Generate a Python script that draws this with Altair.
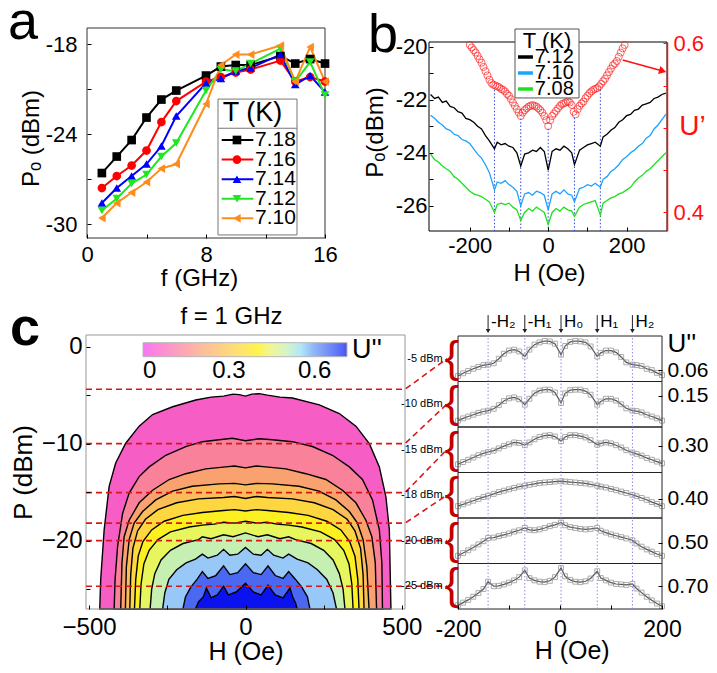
import altair as alt
import pandas as pd

FONT = "Liberation Sans"
VW, VH = 701, 657

# ---------------- panel a data ----------------
A_FREQ = [1, 2, 3, 4, 5, 6, 8, 9, 10, 11, 13, 14, 15, 16]
A_T = ["7.18", "7.16", "7.14", "7.12", "7.10"]
A_P_718 = [-26.6, -25.5, -24.4, -22.9, -21.7, -21.1, -20.1, -19.5, -19.4, -19.4, -18.8, -19.3, -19.0, -19.3]
A_P_716 = [-27.6, -26.8, -26.1, -25.1, -23.2, -21.8, -20.5, -20.2, -19.9, -19.7, -19.1, -20.5, -20.2, -20.5]
A_P_714 = [-28.6, -27.6, -26.8, -26.0, -24.8, -22.8, -20.6, -20.3, -19.8, -19.6, -18.7, -20.7, -20.1, -21.2]
A_P_712 = [-29.1, -28.3, -27.3, -26.7, -25.5, -24.6, -21.1, -19.7, -19.8, -19.3, -18.3, -20.5, -19.2, -21.4]
A_P_710 = [-29.6, -28.6, -27.9, -27.2, -26.3, -26.0, -22.0, -19.4, -18.7, -18.7, -18.1, -20.5, -18.2, -20.5]
A_COLORS = ["#000000", "#ff0000", "#0000ff", "#1fe81f", "#ff8c1a"]
A_SHAPES = ["square", "circle", "triangle-up", "triangle-down", "triangle-left"]
LEG_ROW = [1, 2, 3, 4, 5]

# ---------------- panel b data ----------------
B_T = ["7.12", "7.10", "7.08"]
B_ROW = [1, 2, 3]
B_COLORS = ["#000000", "#1aa3ff", "#1ee01e"]
B_H = [-300, -290, -280, -270, -260, -250, -240, -230, -220, -210, -200, -190, -180, -170, -160, -150,
       -137, -130, -120, -110, -100, -90, -80, -70, -60, -50, -40, -30, -20, -10, 0, 10, 20, 30, 40, 50, 60,
       67, 80, 90, 100, 110, 120, 133, 140, 150, 160, 170, 180, 190, 200, 210, 220, 230, 240, 250, 260,
       270, 280, 290, 300]
B_712 = [-21.80, -21.95, -21.90, -22.10, -22.05, -22.25, -22.30, -22.45, -22.50, -22.70, -22.75, -22.85,
         -23.00, -23.10, -23.35, -23.55, -23.85, -23.60, -23.70, -23.65, -23.75, -23.80, -24.00, -24.50,
         -24.05, -24.00, -23.90, -23.95, -23.80, -23.95, -24.65, -23.95, -23.85, -23.90, -23.75, -23.85,
         -24.00, -24.45, -23.90, -23.80, -23.70, -23.65, -23.60, -23.75, -23.40, -23.30, -23.15, -23.05,
         -22.85, -22.75, -22.60, -22.55, -22.40, -22.35, -22.20, -22.15, -22.10, -21.95, -21.90, -21.80, -21.75]
B_710 = [-22.58, -22.70, -22.85, -22.95, -23.10, -23.15, -23.30, -23.35, -23.50, -23.55, -23.65, -23.85,
         -24.05, -24.20, -24.45, -24.75, -25.40, -25.10, -25.15, -25.05, -25.20, -25.30, -25.45, -26.00,
         -25.55, -25.50, -25.60, -25.45, -25.50, -25.60, -26.15, -25.55, -25.45, -25.55, -25.40, -25.55,
         -25.60, -25.85, -25.35, -25.30, -25.20, -25.25, -25.15, -25.30, -25.00, -24.90, -24.70, -24.60,
         -24.45, -24.25, -24.15, -24.00, -23.90, -23.75, -23.65, -23.45, -23.35, -23.10, -22.95, -22.75, -22.55]
B_708 = [-24.05, -24.25, -24.35, -24.50, -24.60, -24.70, -24.90, -25.00, -25.15, -25.30, -25.45, -25.55,
         -25.60, -25.65, -25.75, -25.85, -26.25, -25.95, -25.90, -25.95, -25.90, -26.05, -26.15, -26.55,
         -26.25, -26.10, -26.20, -26.05, -26.15, -26.25, -26.70, -26.25, -26.10, -26.20, -26.05, -26.15,
         -26.20, -26.40, -26.05, -25.95, -25.90, -25.85, -25.80, -26.35, -25.90, -25.80, -25.70, -25.65,
         -25.55, -25.50, -25.40, -25.30, -25.10, -24.95, -24.85, -24.70, -24.60, -24.45, -24.30, -24.15, -24.00]
B_UH = [-200, -195, -190, -185, -180, -175, -170, -165, -160, -155, -150, -145, -140, -135, -130, -125,
        -120, -115, -110, -105, -100, -95, -90, -85, -80, -75, -70, -65, -60, -55, -50, -45, -40, -35, -30,
        -25, -20, -15, -10, -5, 0, 5, 10, 15, 20, 25, 30, 35, 40, 45, 50, 55, 60, 65, 70, 75, 80, 85, 90, 95,
        100, 105, 110, 115, 120, 125, 130, 135, 140, 145, 150, 155, 160, 165, 170, 175, 180, 185, 190, 195]
B_U = [.598, .595, .592, .589, .585, .581, .577, .572, .567, .562,
       .557, .553, .551, .550, .549, .548, .546, .545, .543, .540,
       .538, .534, .530, .526, .522, .518, .514, .518, .521, .523,
       .525, .526, .527, .526, .525, .523, .521, .518, .514, .509,
       .502, .509, .514, .517, .520, .523, .526, .528, .529, .530,
       .531, .530, .527, .519, .516, .522, .526, .529, .531, .535,
       .538, .541, .543, .545, .546, .547, .549, .552, .555, .558,
       .562, .566, .570, .574, .576, .579, .584, .589, .594, .598]
B_VL_H = [-137, -70, 0, 67, 133]
B_VL_U = [.545, .511, .499, .512, .545]
B_ARROW_H = [190, 292]
B_ARROW_U = [.5802, .5672]

# ---------------- panel c data (contour boundaries, outer -> inner) ----------------
C1_H = [-466, -463, -452, -436, -415, -383, -340, -297, -233, -159, -110, -70, -40, -20, 0, 20, 44, 70, 110, 150, 236, 300, 353, 396, 428, 449, 460, 465]
C1_P = [-27.05, -24.0, -18.9, -14.4, -12.0, -9.96, -8.2, -7.0, -6.2, -5.5, -5.2, -5.1, -4.9, -4.95, -5.1, -4.9, -4.85, -5.0, -5.2, -5.3, -6.0, -6.9, -8.2, -10.0, -12.4, -15.5, -18.9, -27.05]
C2_H = [-420, -417, -409, -393, -372, -340, -308, -255, -191, -138, -84, -42, 0, 44, 86, 150, 214, 278, 332, 374, 406, 428, 436, 438]
C2_P = [-27.05, -24.0, -20.6, -17.2, -15.1, -13.4, -12.4, -11.2, -10.3, -9.8, -9.6, -9.45, -9.7, -9.5, -9.6, -9.8, -10.3, -11.2, -12.4, -13.7, -15.8, -18.9, -22.3, -27.05]
C3_H = [-399, -395, -388, -372, -340, -297, -244, -191, -127, -63, -35, 0, 35, 65, 129, 193, 257, 310, 353, 385, 404, 415, 419]
C3_P = [-27.05, -22.3, -19.6, -17.9, -16.1, -14.8, -13.7, -13.1, -12.6, -12.4, -12.3, -12.5, -12.3, -12.4, -12.6, -13.1, -13.7, -14.8, -16.1, -17.9, -19.6, -22.3, -27.05]
C4_H = [-384, -381, -372, -356, -329, -287, -233, -170, -84, -35, 0, 35, 86, 171, 235, 289, 332, 358, 376, 388, 395]
C4_P = [-27.05, -22.7, -19.9, -18.2, -17.0, -15.8, -14.9, -14.4, -14.15, -14.1, -14.25, -14.1, -14.15, -14.4, -14.9, -15.8, -17.0, -18.2, -19.9, -22.7, -27.05]
C5_H = [-370, -367, -360, -345, -320, -280, -220, -150, -70, -35, 0, 35, 70, 150, 220, 280, 325, 350, 368, 376, 379]
C5_P = [-27.05, -23.5, -20.8, -19.0, -17.8, -16.8, -16.1, -15.7, -15.55, -15.45, -15.65, -15.45, -15.55, -15.7, -16.1, -16.8, -17.8, -19.0, -20.8, -23.5, -27.05]
C6_H = [-355, -351, -343, -328, -300, -260, -200, -138, -70, -35, 0, 35, 70, 138, 200, 260, 305, 333, 350, 359, 363]
C6_P = [-27.05, -24.0, -21.6, -20.1, -18.9, -18.0, -17.4, -17.1, -16.9, -16.8, -16.95, -16.8, -16.9, -17.1, -17.4, -18.0, -18.9, -20.1, -21.6, -24.0, -27.05]
C7_H = [-338, -334, -325, -308, -280, -240, -180, -138, -100, -70, -35, 0, 35, 70, 100, 138, 180, 240, 285, 314, 331, 340, 344]
C7_P = [-27.05, -24.5, -22.4, -21.0, -19.9, -19.1, -18.6, -18.4, -18.3, -18.1, -18.2, -18.0, -18.2, -18.1, -18.3, -18.4, -18.6, -19.1, -19.9, -21.0, -22.4, -24.5, -27.05]
C8_H = [-305, -300, -290, -270, -240, -200, -150, -138, -110, -70, -40, 0, 40, 70, 110, 138, 160, 210, 250, 280, 300, 312, 318]
C8_P = [-27.05, -25.0, -23.4, -22.0, -21.0, -20.3, -19.9, -19.6, -19.8, -19.4, -19.6, -19.2, -19.6, -19.4, -19.8, -19.6, -19.9, -20.3, -21.0, -22.0, -23.4, -25.0, -27.05]
C9_H = [-265, -258, -245, -220, -190, -160, -138, -120, -90, -70, -50, -25, 0, 25, 50, 70, 90, 120, 138, 165, 200, 230, 260, 280, 291]
C9_P = [-27.05, -25.4, -24.0, -23.0, -22.3, -21.9, -21.4, -21.8, -21.5, -20.9, -21.5, -21.4, -20.7, -21.4, -21.5, -20.9, -21.5, -21.8, -21.4, -21.9, -22.3, -23.0, -24.0, -25.4, -27.05]
C10_H = [-200, -192, -175, -155, -138, -120, -95, -70, -50, -25, 0, 25, 50, 72, 95, 120, 138, 160, 180, 198, 206]
C10_P = [-27.05, -25.8, -24.8, -24.0, -23.2, -23.9, -23.6, -22.6, -23.5, -23.3, -22.4, -23.3, -23.5, -22.6, -23.6, -23.9, -23.2, -24.0, -24.8, -25.8, -27.05]
C11_H = [-160, -150, -135, -125, -110, -90, -70, -55, -30, 0, 25, 50, 72, 95, 120, 142, 152, 160, 165]
C11_P = [-27.05, -26.3, -25.8, -24.9, -25.9, -25.6, -24.7, -25.6, -25.3, -24.4, -25.3, -25.6, -24.6, -25.6, -25.9, -24.9, -25.9, -26.4, -27.05]
C_COLORS = ["#f65ec6", "#f9819a", "#f9a270", "#fbbd5a", "#fdd640", "#fdf020", "#e6f65c",
            "#c6efb2", "#98c8f8", "#4a68f2", "#0a12f0"]
C_DASH_P = [-4.4, -10.0, -15.05, -18.2, -20.0, -24.7]
C_LINK_P = [-1.24, -5.93, -10.62, -15.31, -20.0, -24.69]
CB_STOPS = [0.0, 0.1, 0.2, 0.3, 0.4, 0.49, 0.56, 0.61, 0.713]
CB_COLORS = ["#f040f0", "#f870b0", "#f9a078", "#fcc848", "#fef000", "#e0f0a0", "#a0d8f8", "#6080f0", "#0000f0"]

# ---------------- panel c right: U'' stacks ----------------
S_H = [-200, -190, -180, -170, -160, -150, -141, -130, -120, -110, -100, -90, -80, -69, -60, -50, -40,
       -30, -20, -10, 2, 10, 20, 30, 40, 50, 60, 73, 80, 90, 100, 110, 120, 130, 142, 150, 160, 170, 180, 190, 200]
S_U1 = [.0574, .0586, .0596, .0606, .0614, .0622, .0624, .063, .065, .0672, .0686, .069, .0682, .066, .069,
        .0712, .0722, .0728, .0726, .0716, .0668, .0706, .0724, .0728, .0726, .0722, .0704, .066, .0676,
        .0686, .0686, .0678, .0658, .0634, .0624, .0622, .0618, .0606, .06, .0588, .0578]
S_U2 = [.1281, .1301, .1317, .1333, .1349, .1361, .1369, .1385, .1417, .1453, .1477, .1485, .1469, .1421,
        .1473, .1521, .1545, .1553, .1553, .1529, .1437, .1521, .1549, .1553, .1553, .1541, .1509, .1421,
        .1449, .1473, .1473, .1457, .1425, .1389, .1369, .1365, .1353, .1333, .1317, .1301, .1281]
S_U3 = [.2758, .2788, .2818, .2848, .2878, .2902, .292, .2938, .2968, .2998, .3022, .3046, .304, .301, .3046,
        .3088, .3118, .3136, .3142, .3124, .3064, .3118, .3142, .3142, .313, .3112, .3076, .3016, .3034,
        .3046, .3034, .301, .298, .2944, .2914, .2896, .2872, .2842, .2818, .2794, .277]
S_U4 = [.384, .388, .392, .396, .400, .404, .407, .411, .415, .418, .421, .424, .427, .429, .431, .433, .435,
        .436, .437, .438, .439, .438, .437, .436, .435, .434, .432, .429, .427, .425, .422, .419, .416, .413,
        .409, .406, .402, .398, .393, .389, .384]
S_U5 = [.471, .477, .483, .489, .496, .503, .510, .511, .514, .517, .520, .524, .527, .532, .528, .527, .529,
        .532, .536, .539, .544, .538, .534, .532, .530, .529, .530, .532, .526, .522, .518, .515, .512, .509,
        .505, .498, .491, .485, .480, .475, .471]
S_U6 = [.616, .628, .640, .654, .670, .688, .720, .700, .702, .708, .716, .726, .740, .770, .736, .726, .720,
        .718, .724, .740, .780, .744, .728, .720, .718, .722, .734, .766, .736, .726, .716, .710, .708, .706,
        .710, .690, .672, .654, .638, .624, .612]
S_DOM = [[0.055, 0.075], [0.1225, 0.1625], [0.265, 0.325], [0.358, 0.458], [0.454, 0.554], [0.6, 0.8]]
S_TICK = [0.06, 0.15, 0.30, 0.40, 0.50, 0.70]
S_DBM = ["-5 dBm", "-10 dBm", "-15 dBm", "-18 dBm", "-20 dBm", "-25 dBm"]
S_MARK_H = [-141, -69, 2, 73, 142]
S_MARK_LBL = ["-H\u2082", "-H\u2081", "H\u2080", "H\u2081", "H\u2082"]


def S(domain, rng):
    return alt.Scale(domain=domain, range=rng, nice=False, zero=False)


def axis(orient, offset, **kw):
    d = dict(orient=orient, offset=offset, grid=False, domain=False, zindex=1,
             tickSize={"expr": "-4"}, tickColor="black", tickWidth=1,
             labelFont=FONT, labelFontSize=22, labelColor="black", labelPadding=10,
             labelFlush=False, labelOverlap=False,
             titleFont=FONT, titleFontSize=24, titleFontWeight="normal", titleColor="black",
             titleAlign="center", titleBaseline="middle")
    d.update(kw)
    return alt.Axis(**d)


def frame(xs, ys, xd, yd, color="black", sw=1.0):
    df = pd.DataFrame({"x0": [xd[0]], "x1": [xd[1]], "y0": [yd[0]], "y1": [yd[1]]})
    return alt.Chart(df).mark_rect(fillOpacity=0, stroke=color, strokeWidth=sw).encode(
        x=alt.X("x0:Q", scale=xs, axis=None), x2="x1:Q",
        y=alt.Y("y0:Q", scale=ys, axis=None), y2="y1:Q")


def text_at(t, x, y, **kw):
    return alt.Chart(pd.DataFrame({"t": [t]})).mark_text(font=FONT, **kw).encode(
        text="t:N", x=alt.value(x), y=alt.value(y))


layers = []

# ======================= panel a =======================
XA = S([0, 16], [79, 317])
YA = S([-30.93, -16.93], [230, 20])
rows = []
for t, ser in zip(A_T, [A_P_718, A_P_716, A_P_714, A_P_712, A_P_710]):
    for f, p in zip(A_FREQ, ser):
        rows.append({"f": f, "P": p, "T": t})
dfa = pd.DataFrame(rows)
colA = alt.Color("T:N", scale=alt.Scale(domain=A_T, range=A_COLORS), legend=None)
shpA = alt.Shape("T:N", scale=alt.Scale(domain=A_T, range=A_SHAPES), legend=None)

layers.append(frame(XA, YA, [0, 16], [-30.93, -16.93], "#333"))
layers.append(alt.Chart(dfa).mark_line(strokeWidth=2).encode(
    x=alt.X("f:Q", scale=XA, axis=axis("bottom", 230 - VH, values=[0, 4, 8, 12, 16],
            labelExpr="datum.value % 8 == 0 ? '' + datum.value : ''", labelPadding=10,
            title="f (GHz)", titleX=191, titleY=40)),
    y=alt.Y("P:Q", scale=YA, axis=axis("left", -79, values=[-30, -27, -24, -21, -18],
            labelExpr="datum.value % 6 == 0 ? '' + datum.value : ''", labelPadding=14,
            title="P\u2092 (dBm)", titleX=-56, titleY=130, titleAngle=270)),
    color=colA))
layers.append(alt.Chart(dfa).mark_point(filled=True, size=75, opacity=1).encode(
    x=alt.X("f:Q", scale=XA, axis=None), y=alt.Y("P:Q", scale=YA, axis=None),
    color=colA, shape=shpA))

# custom legend of panel a
XL = S([0, 1], [210, 289])
YL = S([1, 5], [132, 210.3])
layers.append(frame(XL, YL, [0, 1], [-1.09, 5.85], "#777").mark_rect(fill="white", stroke="#777", strokeWidth=1))
layers.append(alt.Chart(pd.DataFrame({"x": [0.437], "y": [-0.36], "t": ["T (K)"]})).mark_text(
    font=FONT, fontSize=27, align="center", baseline="middle").encode(
    x=alt.X("x:Q", scale=XL, axis=None), y=alt.Y("y:Q", scale=YL, axis=None), text="t:N"))
layers.append(alt.Chart(pd.DataFrame({"x0": [0], "x1": [1], "y": [0.40]})).mark_rule(color="#777").encode(
    x=alt.X("x0:Q", scale=XL, axis=None), x2="x1:Q", y=alt.Y("y:Q", scale=YL, axis=None)))
dleg = pd.DataFrame({"T": A_T, "row": LEG_ROW, "xa": [0.047] * 5, "xb": [0.447] * 5,
                     "xm": [0.24] * 5, "xt": [0.468] * 5})
layers.append(alt.Chart(dleg).mark_rule(strokeWidth=2).encode(
    x=alt.X("xa:Q", scale=XL, axis=None), x2="xb:Q", y=alt.Y("row:Q", scale=YL, axis=None), color=colA))
layers.append(alt.Chart(dleg).mark_point(filled=True, size=75, opacity=1).encode(
    x=alt.X("xm:Q", scale=XL, axis=None), y=alt.Y("row:Q", scale=YL, axis=None), color=colA, shape=shpA))
layers.append(alt.Chart(dleg).mark_text(font=FONT, fontSize=21, align="left", baseline="middle").encode(
    x=alt.X("xt:Q", scale=XL, axis=None), y=alt.Y("row:Q", scale=YL, axis=None), text="T:N"))

# ======================= panel b =======================
XB = S([-304, 303], [421, 659])
YB = S([-26.95, -19.82], [223, 34])
YB2 = S([0.378, 0.6015], [223, 34])
rows = []
for t, ser in zip(B_T, [B_712, B_710, B_708]):
    for h, p in zip(B_H, ser):
        rows.append({"H": h, "P": p, "T": t})
dfb = pd.DataFrame(rows)
colB = alt.Color("T:N", scale=alt.Scale(domain=B_T, range=B_COLORS), legend=None)
layers.append(frame(XB, YB, [-304, 303], [-26.95, -19.82], "black"))
dfvl = pd.DataFrame({"H": B_VL_H, "U": B_VL_U, "U0": [0.378] * 5})
layers.append(alt.Chart(dfvl).mark_rule(color="#3344dd", strokeWidth=1, strokeDash=[1.5, 2]).encode(
    x=alt.X("H:Q", scale=XB, axis=None), y=alt.Y("U:Q", scale=YB2, axis=None), y2="U0:Q"))
layers.append(alt.Chart(dfb).mark_line(strokeWidth=1.3).encode(
    x=alt.X("H:Q", scale=XB, axis=axis("bottom", 223 - VH, values=[-200, -100, 0, 100, 200],
            labelExpr="datum.value % 200 == 0 ? '' + datum.value : ''", labelPadding=8,
            title="H (Oe)", titleX=541, titleY=42)),
    y=alt.Y("P:Q", scale=YB, axis=axis("left", -421, values=[-26, -25, -24, -23, -22, -21, -20],
            labelExpr="datum.value % 2 == 0 ? '' + datum.value : ''", labelPadding=6,
            title="P\u2092(dBm)", titleX=-54, titleY=124, titleAngle=270)),
    color=colB))
dfu = pd.DataFrame({"H": B_UH, "U": B_U})
layers.append(alt.Chart(dfu).mark_point(shape="circle", filled=False, color="#ff2020", size=50, strokeWidth=1).encode(
    x=alt.X("H:Q", scale=XB, axis=None),
    y=alt.Y("U:Q", scale=YB2, axis=axis("right", 659 - VW, values=[0.4, 0.45, 0.5, 0.55, 0.6],
            labelExpr="(datum.value == 0.4 || datum.value == 0.6) ? format(datum.value, '.1f') : ''",
            labelColor="#ff1010", tickColor="#ff1010", domain=True, domainColor="#ff1010", domainWidth=1.5,
            labelPadding=10, title="U\u2019", titleColor="#ff1010", titleFontSize=28, titleAngle=0,
            titleX=25, titleY=118))))
dfar = pd.DataFrame({"H": B_ARROW_H, "U": B_ARROW_U})
layers.append(alt.Chart(dfar).mark_line(color="#ff1010", strokeWidth=1.5).encode(
    x=alt.X("H:Q", scale=XB, axis=None), y=alt.Y("U:Q", scale=YB2, axis=None)))
layers.append(alt.Chart(dfar.iloc[[1]]).mark_point(shape="triangle-right", filled=True, color="#ff1010",
                                                   size=70, angle=17, opacity=1).encode(
    x=alt.X("H:Q", scale=XB, axis=None), y=alt.Y("U:Q", scale=YB2, axis=None)))

# custom legend of panel b
XLB = S([0, 1], [507, 571])
YLB = S([1, 3], [49, 81])
layers.append(frame(XLB, YLB, [0, 1], [-0.75, 3.56], "#555").mark_rect(fill="white", stroke="#555", strokeWidth=1))
layers.append(alt.Chart(pd.DataFrame({"x": [0.5], "y": [0.0], "t": ["T (K)"]})).mark_text(
    font=FONT, fontSize=22, align="center", baseline="middle").encode(
    x=alt.X("x:Q", scale=XLB, axis=None), y=alt.Y("y:Q", scale=YLB, axis=None), text="t:N"))
dlegb = pd.DataFrame({"T": B_T, "row": B_ROW, "xa": [0.047] * 3, "xb": [0.28] * 3, "xt": [0.31] * 3})
layers.append(alt.Chart(dlegb).mark_rule(strokeWidth=3.5).encode(
    x=alt.X("xa:Q", scale=XLB, axis=None), x2="xb:Q", y=alt.Y("row:Q", scale=YLB, axis=None), color=colB))
layers.append(alt.Chart(dlegb).mark_text(font=FONT, fontSize=20, align="left", baseline="middle").encode(
    x=alt.X("xt:Q", scale=XLB, axis=None), y=alt.Y("row:Q", scale=YLB, axis=None), text="T:N"))

# ======================= panel c (contour) =======================
XC = S([-510, 510], [78, 397])
YC = S([-27.05, 1.2], [601, 327])
bounds = [(C1_H, C1_P), (C2_H, C2_P), (C3_H, C3_P), (C4_H, C4_P), (C5_H, C5_P), (C6_H, C6_P),
          (C7_H, C7_P), (C8_H, C8_P), (C9_H, C9_P), (C10_H, C10_P), (C11_H, C11_P)]
for i, (hh, pp) in enumerate(bounds):
    dfc = pd.DataFrame({"H": hh, "P": pp})
    if i == 0:
        xax = axis("bottom", 601 - VH, values=[-500, -250, 0, 250, 500],
                   labelExpr="datum.value % 500 == 0 ? datum.label : ''", labelFontSize=24,
                   labelPadding=10, title="H (Oe)", titleFontSize=25, titleX=237.5, titleY=42)
        yax = axis("left", -78, values=[-25, -20, -15, -10, -5, 0],
                   labelExpr="datum.value % 10 == 0 ? datum.label : ''", labelFontSize=24,
                   labelPadding=8, title="P (dBm)", titleFontSize=26, titleX=-63, titleY=464, titleAngle=270)
    else:
        xax = None
        yax = None
    layers.append(alt.Chart(dfc).mark_area(color=C_COLORS[i], stroke="black", strokeWidth=1.4, opacity=1).encode(
        x=alt.X("H:Q", scale=XC, axis=xax), y=alt.Y("P:Q", scale=YC, axis=yax), y2=alt.Y2Datum(-27.05)))
layers.append(frame(XC, YC, [-510, 510], [-27.05, 1.2], "#999"))
rows = []
for i, (pd_, pl) in enumerate(zip(C_DASH_P, C_LINK_P)):
    rows += [{"H": -510, "P": pd_, "k": i, "o": 0}, {"H": 510, "P": pd_, "k": i, "o": 1},
             {"H": 644, "P": pl, "k": i, "o": 2}]
layers.append(alt.Chart(pd.DataFrame(rows)).mark_line(color="#d81818", strokeWidth=1.6, strokeDash=[6, 4]).encode(
    x=alt.X("H:Q", scale=XC, axis=None), y=alt.Y("P:Q", scale=YC, axis=None), detail="k:N", order="o:Q"))
layers.append(alt.Chart(pd.DataFrame({"u": CB_STOPS})).mark_point(filled=True, size=10).encode(
    x=alt.value(-60), y=alt.value(-60),
    fill=alt.Fill("u:Q", scale=alt.Scale(domain=CB_STOPS, range=CB_COLORS),
                  legend=alt.Legend(orient="none", legendX=135, legendY=334.7, direction="horizontal",
                                    gradientLength=204, gradientThickness=14, title="U''",
                                    titleOrient="right", titleFont=FONT, titleFontSize=27,
                                    titleFontWeight="normal", titleColor="black", titlePadding=4,
                                    labelFont=FONT, labelFontSize=24, labelColor="black",
                                    values=[0, 0.3, 0.6],
                                    labelExpr="datum.value == 0 ? '0' : format(datum.value, '.1f')",
                                    gradientStrokeColor="#999", gradientStrokeWidth=1, padding=0))))
layers.append(text_at("f = 1 GHz", 223.5, 309, fontSize=24, align="center", baseline="middle"))

# ======================= panel c right (U'' stack) =======================
XS = S([-200, 200], [450, 654])
YD = S([0, 6], [601, 328])
for j, ser in enumerate([S_U1, S_U2, S_U3, S_U4, S_U5, S_U6]):
    top = 328 + 45.5 * j
    ys = S(S_DOM[j], [top + 45.5, top])
    dfs = pd.DataFrame({"H": S_H, "U": ser})
    yax = axis("right", 654 - VW, values=[S_TICK[j]], format=".2f", labelFontSize=21, labelPadding=9,
               title=("U''" if j == 0 else None), titleFontSize=26, titleAngle=0, titleAlign="left",
               titleX=5, titleY=335)
    xax = None
    if j == 5:
        xax = axis("bottom", 601 - VH, values=[-200, -100, 0, 100, 200],
                   labelExpr="datum.value % 200 == 0 ? '' + datum.value : ''", labelFontSize=23,
                   labelPadding=13, title="H (Oe)", titleFontSize=25, titleX=563.7, titleY=41)
    layers.append(alt.Chart(dfs).mark_line(color="#555", strokeWidth=1.2).encode(
        x=alt.X("H:Q", scale=XS, axis=xax), y=alt.Y("U:Q", scale=ys, axis=yax)))
    layers.append(alt.Chart(dfs).mark_point(shape="square", filled=False, color="#8a8a8a", size=24, strokeWidth=1).encode(
        x=alt.X("H:Q", scale=XS, axis=None), y=alt.Y("U:Q", scale=ys, axis=None)))

dfr = pd.DataFrame({"x0": [-200] * 6, "x1": [200] * 6, "y0": [0, 1, 2, 3, 4, 5], "y1": [1, 2, 3, 4, 5, 6]})
layers.append(alt.Chart(dfr).mark_rect(fillOpacity=0, stroke="#222", strokeWidth=1).encode(
    x=alt.X("x0:Q", scale=XS, axis=None), x2="x1:Q", y=alt.Y("y0:Q", scale=YD, axis=None), y2="y1:Q"))
dfm = pd.DataFrame({"H": S_MARK_H, "y0": [0] * 5, "y1": [6] * 5, "a0": [6.46] * 5, "a1": [6.09] * 5,
                    "tip": [6.11] * 5, "ty": [6.31] * 5, "lbl": S_MARK_LBL})
layers.append(alt.Chart(dfm).mark_rule(color="#8a8ae6", strokeWidth=1, strokeDash=[1.5, 2]).encode(
    x=alt.X("H:Q", scale=XS, axis=None), y=alt.Y("y0:Q", scale=YD, axis=None), y2="y1:Q"))
layers.append(alt.Chart(dfm).mark_rule(color="#222", strokeWidth=1).encode(
    x=alt.X("H:Q", scale=XS, axis=None), y=alt.Y("a0:Q", scale=YD, axis=None), y2="a1:Q"))
layers.append(alt.Chart(dfm).mark_point(shape="triangle-down", filled=True, color="#222", size=22, opacity=1).encode(
    x=alt.X("H:Q", scale=XS, axis=None), y=alt.Y("tip:Q", scale=YD, axis=None)))
layers.append(alt.Chart(dfm).mark_text(font=FONT, fontSize=17, align="left", baseline="middle", dx=3).encode(
    x=alt.X("H:Q", scale=XS, axis=None), y=alt.Y("ty:Q", scale=YD, axis=None), text="lbl:N"))
dfbr = pd.DataFrame({"lbl": S_DBM, "ym": [5.5, 4.5, 3.5, 2.5, 1.5, 0.5], "xb": [-212] * 6, "xl": [-230] * 6,
                     "br": ["{"] * 6})
layers.append(alt.Chart(dfbr).mark_text(font=FONT, fontSize=44, color="#c00000", align="center", baseline="middle").encode(
    x=alt.X("xb:Q", scale=XS, axis=None), y=alt.Y("ym:Q", scale=YD, axis=None), text="br:N"))
layers.append(alt.Chart(dfbr).mark_text(font=FONT, fontSize=11, align="right", baseline="middle").encode(
    x=alt.X("xl:Q", scale=XS, axis=None), y=alt.Y("ym:Q", scale=YD, axis=None), text="lbl:N"))

# ======================= panel letters =======================
layers.append(text_at("a", 0, 31, fontSize=54, align="left", baseline="alphabetic"))
layers.append(text_at("b", 360, 44, fontSize=54, align="left", baseline="alphabetic"))
layers.append(text_at("c", 2, 337, fontSize=54, fontWeight="bold", align="left", baseline="alphabetic"))

chart = alt.layer(*layers).resolve_scale(
    x="independent", y="independent", color="independent", shape="independent", fill="independent"
).resolve_axis(x="independent", y="independent").resolve_legend(
    color="independent", shape="independent", fill="independent"
).properties(
    width=VW, height=VH, autosize=alt.AutoSizeParams(type="none"), padding=0
).configure(font=FONT).configure_view(stroke=None)

chart.save("out.html", embed_options={"renderer": "svg", "actions": False})
